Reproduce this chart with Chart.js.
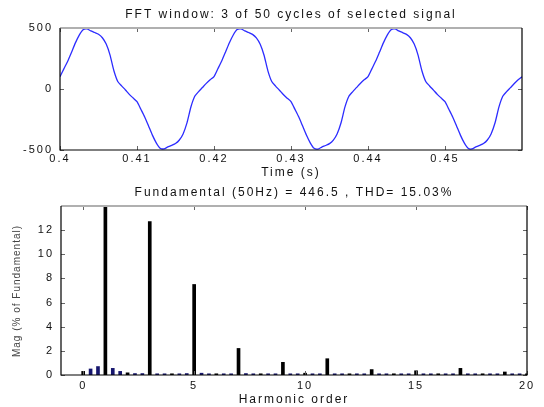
<!DOCTYPE html>
<html>
<head>
<meta charset="utf-8">
<script src="https://cdn.jsdelivr.net/npm/chart.js@4"></script>
<style>
    html, body { margin: 0; padding: 0; background: #fff; }
    #wrap { position: relative; width: 544px; height: 407px; overflow: hidden; }
    #wrap canvas { position: absolute; left: 0; }
</style>
</head>
<body>
<div id="wrap">
    <canvas id="signalChart" width="544" height="180" style="top:0"></canvas>
    <canvas id="fftChart" width="544" height="227" style="top:180px"></canvas>
</div>
<script>
const sampleTimes = [];
for (let i = 0; i <= 120; i++) sampleTimes.push(0.4 + i * 0.0005);
const signalValues = [
    100, 165, 228, 302, 378, 442, 486, 492, 476, 463, 449, 420, 368, 278, 150, 62, 26, -8, -44, -74,
    -104, -166, -229, -303, -378, -441, -485, -491, -475, -462, -447, -418, -366, -276, -148, -60, -22, 12, 46, 76,
    102, 166, 230, 304, 379, 443, 487, 493, 477, 463, 448, 419, 367, 277, 149, 61, 24, -10, -45, -75,
    -103, -165, -228, -302, -377, -441, -486, -492, -476, -463, -448, -419, -367, -277, -149, -61, -23, 11, 45, 75,
    101, 165, 229, 303, 378, 442, 486, 492, 476, 462, 448, 420, 368, 278, 150, 62, 25, -9, -44, -74,
    -104, -166, -229, -303, -378, -442, -486, -491, -475, -462, -447, -418, -366, -277, -149, -60, -22, 11, 45, 75,
    100
];
const timeTicks = [0.4, 0.41, 0.42, 0.43, 0.44, 0.45];
const signalTicks = [-500, 0, 500];

// Spectrum, one bar every 1/3 harmonic order (50/3 Hz resolution)
const harmonicOrders = [];
for (let i = 0; i <= 60; i++) harmonicOrders.push(i / 3);
const harmonicMags = [
    0.3, 0.5, 0.7, 100, 0.55, 0.3, 0.18, 0.12, 0.12, 12.7,
    0.1, 0.1, 0.1, 0.1, 0.12, 7.5, 0.15, 0.1, 0.1, 0.1,
    0.1, 2.2, 0.12, 0.1, 0.1, 0.1, 0.1, 1.05, 0.1, 0.1,
    0.15, 0.1, 0.1, 1.35, 0.1, 0.1, 0.1, 0.1, 0.1, 0.45,
    0.1, 0.1, 0.1, 0.1, 0.1, 0.35, 0.1, 0.1, 0.1, 0.1,
    0.1, 0.55, 0.1, 0.1, 0.1, 0.1, 0.1, 0.25, 0.1, 0.1,
    0.1
];
const orderTicks = [0, 5, 10, 15, 20];
const magTicks = [0, 2, 4, 6, 8, 10, 12];

const signalTitle = 'FFT window: 3 of 50 cycles of selected signal';
const fftTitle = 'Fundamental (50Hz) = 446.5 , THD= 15.03%';

const FONT = 'Liberation Sans, Arial, Helvetica, sans-serif';
const SPACING = '2px';

// MATLAB-like box: inward ticks, frame, titles
const matlabAxes = {
    id: 'matlabAxes',
    beforeDraw(chart) {
        chart.ctx.letterSpacing = SPACING;
    },
    afterDraw(chart, args, opts) {
        const { ctx, chartArea: a, scales: { x, y } } = chart;
        ctx.save();
        ctx.strokeStyle = '#666';
        ctx.lineWidth = 1;
        ctx.beginPath();
        x.ticks.forEach(t => {
            const px = Math.round(x.getPixelForValue(t.value)) + 0.5;
            ctx.moveTo(px, a.bottom); ctx.lineTo(px, a.bottom - 4);
            ctx.moveTo(px, a.top); ctx.lineTo(px, a.top + 4);
        });
        y.ticks.forEach(t => {
            const py = Math.round(y.getPixelForValue(t.value)) + 0.5;
            ctx.moveTo(a.left, py); ctx.lineTo(a.left + 4, py);
            ctx.moveTo(a.right, py); ctx.lineTo(a.right - 4, py);
        });
        ctx.stroke();

        ctx.strokeStyle = '#b0b0b0';
        ctx.lineWidth = 2;
        ctx.beginPath();
        ctx.moveTo(a.left, a.top); ctx.lineTo(a.right, a.top);
        ctx.stroke();
        ctx.strokeStyle = '#000';
        ctx.lineWidth = 1.2;
        ctx.beginPath();
        ctx.moveTo(a.left, a.top); ctx.lineTo(a.left, a.bottom);
        ctx.lineTo(a.right, a.bottom); ctx.lineTo(a.right, a.top);
        ctx.stroke();

        const cx = (a.left + a.right) / 2;
        ctx.fillStyle = '#111';
        ctx.textAlign = 'center';
        ctx.textBaseline = 'middle';
        ctx.letterSpacing = SPACING;
        ctx.font = '12px ' + FONT;
        ctx.fillText(opts.title, cx, opts.titleY);
        ctx.fillText(opts.xLabel, cx, opts.xLabelY);
        if (opts.yLabel) {
            ctx.translate(opts.yLabelX, opts.yLabelY);
            ctx.rotate(-Math.PI / 2);
            ctx.fillStyle = '#444';
            ctx.letterSpacing = '1px';
            ctx.font = '10px ' + FONT;
            ctx.fillText(opts.yLabel, 0, 0);
        }
        ctx.restore();
    }
};

const tickFont = { family: FONT, size: 11 };

new Chart(document.getElementById('signalChart'), {
    type: 'line',
    data: {
        datasets: [{
            data: sampleTimes.map((t, i) => ({ x: t, y: signalValues[i] })),
            borderColor: '#2c2cff',
            borderWidth: 1.3,
            pointRadius: 0,
            tension: 0.2
        }]
    },
    options: {
        responsive: false,
        animation: false,
        layout: { padding: { top: 28, right: 22, left: 0, bottom: 0 } },
        plugins: {
            legend: { display: false },
            tooltip: { enabled: false },
            matlabAxes: { title: signalTitle, titleY: 15, xLabel: 'Time (s)', xLabelY: 173 }
        },
        scales: {
            x: {
                type: 'linear', min: 0.4, max: 0.46,
                grid: { display: false, drawTicks: false },
                border: { display: false },
                ticks: { font: tickFont, color: '#111', padding: 2, maxRotation: 0, callback: v => String(v) },
                afterBuildTicks: s => { s.ticks = timeTicks.map(v => ({ value: v })); },
                afterFit: s => { s.height = 30; }
            },
            y: {
                min: -500, max: 500,
                grid: { display: false, drawTicks: false },
                border: { display: false },
                ticks: { font: tickFont, color: '#111', padding: 7 },
                afterBuildTicks: s => { s.ticks = signalTicks.map(v => ({ value: v })); },
                afterFit: s => { s.width = 60; }
            }
        }
    },
    plugins: [matlabAxes]
});

new Chart(document.getElementById('fftChart'), {
    type: 'bar',
    data: {
        datasets: [{
            data: harmonicOrders.map((h, i) => ({ x: h, y: harmonicMags[i] })),
            backgroundColor: harmonicOrders.map((h, i) => i % 3 === 0 ? '#000' : '#16166e'),
            barThickness: 3
        }]
    },
    options: {
        responsive: false,
        animation: false,
        layout: { padding: { top: 26, right: 17, left: 0, bottom: 0 } },
        plugins: {
            legend: { display: false },
            tooltip: { enabled: false },
            matlabAxes: {
                title: fftTitle, titleY: 13, xLabel: 'Harmonic order', xLabelY: 220,
                yLabel: 'Mag (% of Fundamental)', yLabelX: 17, yLabelY: 111
            }
        },
        scales: {
            x: {
                type: 'linear', min: -1, max: 20, offset: false,
                grid: { display: false, drawTicks: false, offset: false },
                border: { display: false },
                ticks: { font: tickFont, color: '#111', padding: 4, maxRotation: 0 },
                afterBuildTicks: s => { s.ticks = orderTicks.map(v => ({ value: v })); },
                afterFit: s => { s.height = 32; }
            },
            y: {
                min: 0, max: 14,
                grid: { display: false, drawTicks: false },
                border: { display: false },
                ticks: { font: tickFont, color: '#111', padding: 7 },
                afterBuildTicks: s => { s.ticks = magTicks.map(v => ({ value: v })); },
                afterFit: s => { s.width = 61; }
            }
        }
    },
    plugins: [matlabAxes]
});
</script>
</body>
</html>
